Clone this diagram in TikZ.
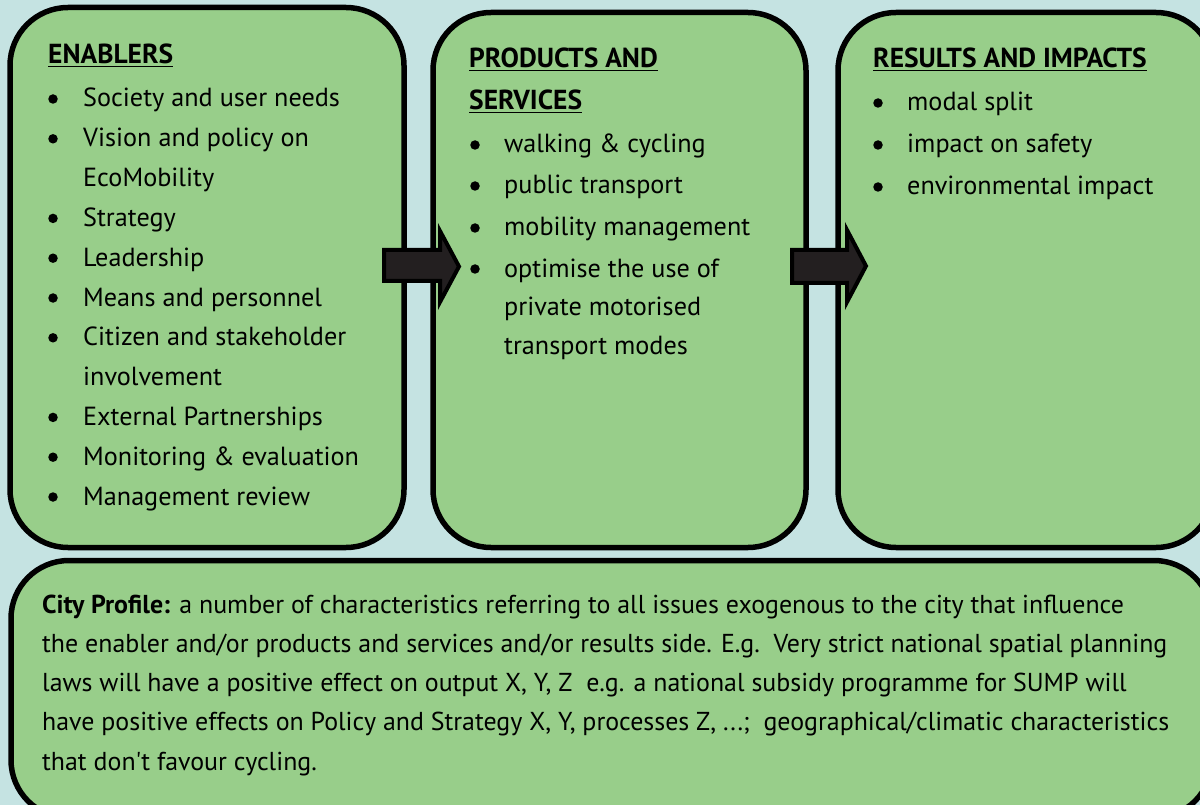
\documentclass[tikz,border=0pt]{standalone}
\usepackage{fontspec}
\setmainfont{PT Sans}[Ligatures=TeXOff]
\definecolor{bgblue}{HTML}{C5E3E2}
\definecolor{panelgreen}{HTML}{98CE8A}
\definecolor{arrowfill}{HTML}{231F20}
\begin{document}
\begin{tikzpicture}[x=1pt,y=-1pt,
  panel/.style={draw=black, line width=5.5pt, fill=panelgreen, rounded corners=58pt},
  blockarrow/.style={draw=black, line width=4pt, fill=arrowfill, line join=miter},
  txt/.style={anchor=base west, inner sep=0pt, font=\fontsize{26.2}{30}\selectfont},
  hd/.style={txt, font=\fontsize{27.5}{32}\selectfont\bfseries},
  foot/.style={anchor=base west, inner sep=0pt, font=\fontsize{25.9}{30}\selectfont},
  dot/.style={circle, fill=black, inner sep=0pt, minimum size=9.5pt}]
\useasboundingbox (0,0) rectangle (1200,805);
\clip (0,0) rectangle (1200,805);
\fill[bgblue] (0,0) rectangle (1200,805);

% the four panels
\draw[panel] (10,7.5) rectangle (404,547.5);
\draw[panel] (433,12.5) rectangle (806,547.5);
\draw[panel] (838,12.5) rectangle (1214,547.5);
\draw[panel] (11,560.5) rectangle (1212,818);

% block arrows between the panels
\draw[blockarrow] (384,250) -- (440,250) -- (440,231) -- (459,266.5) -- (440,302) -- (440,281) -- (384,281) -- cycle;
\draw[blockarrow] (792,250) -- (847,250) -- (847,230) -- (866,266) -- (847,302) -- (847,283) -- (792,283) -- cycle;

% enablers
\node[hd] (ehead) at (48,64) {\underline{ENABLERS}};
\foreach \t/\y [count=\i] in {Society and user needs/107,Vision and policy on/146.8,Strategy/226.4,Leadership/266.2,Means and personnel/306,Citizen and stakeholder/345.8,External Partnerships/425.4,Monitoring \& evaluation/465.2,Management review/505}
  {\node[txt] (e\i) at (83,\y) {\t};
   \node[dot] (eb\i) at (53,\y-8) {};}
\node[txt] (e2b) at (83,186.6) {EcoMobility};
\node[txt] (e6b) at (83,385.6) {involvement};

% products and services
\node[hd] (phead) at (469,68) {\underline{PRODUCTS AND}};
\node[hd] (phead2) at (469,110) {\underline{SERVICES}};
\foreach \t/\y [count=\i] in {walking \& cycling/153,public transport/194,mobility management/236,optimise the use of/277}
  {\node[txt] (p\i) at (504,\y) {\t};
   \node[dot] (pb\i) at (475,\y-8) {};}
\node[txt] (p4b) at (504,315) {private motorised};
\node[txt] (p4c) at (504,354) {transport modes};

% results and impacts
\node[hd] (rhead) at (873,68) {\underline{RESULTS AND IMPACTS}};
\foreach \t/\y [count=\i] in {modal split/111,impact on safety/153,environmental impact/195}
  {\node[txt] (r\i) at (907,\y) {\t};
   \node[dot] (rb\i) at (878,\y-8) {};}

% city profile
\node[foot] (c1) at (42,613) {\textbf{City Profile:} a number of characteristics referring to all issues exogenous to the city that influence};
\node[foot] (c2) at (42,652) {the enabler and/or products and services and/or results side. E.g.\ \ Very strict national spatial planning};
\node[foot] (c3) at (42,691) {laws will have a positive effect on output X, Y, Z\ \ e.g. a national subsidy programme for SUMP will};
\node[foot] (c4) at (42,730) {have positive effects on Policy and Strategy X, Y, processes Z, ...;\ \ geographical/climatic characteristics};
\node[foot] (c5) at (42,770) {that don't favour cycling.};
\end{tikzpicture}
\end{document}
